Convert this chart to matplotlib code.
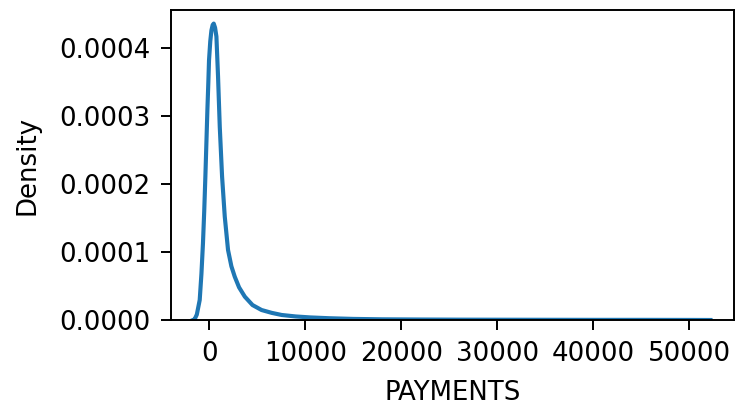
import matplotlib
matplotlib.use("Agg")
import matplotlib.pyplot as plt

# kde curve of PAYMENTS
payments = [-1700, -1530, -1300, -1000, -820, -660, -530, -410, -300, -200, -100, -30, 100,
            220, 350, 460, 600, 740, 910, 1090, 1330, 1610, 1950, 2300, 2650,
            3100, 3700, 4500, 5440, 6500, 7530, 9000, 10500, 12500, 15000,
            18000, 22000, 26000, 30000, 35000, 40000, 45000, 50000, 52200]
density = [0.0, 0.000001, 0.000008, 0.0000294, 0.000068, 0.000113, 0.000160, 0.000211, 0.000262, 0.000309,
           0.000350, 0.000382, 0.000410, 0.000426, 0.000434, 0.000436, 0.000430, 0.000417, 0.000358,
           0.000284, 0.000211, 0.000152, 0.000103, 0.000079, 0.0000637, 0.000048, 0.0000343,
           0.000022, 0.0000147, 0.0000105, 0.0000074, 0.0000052, 0.0000038, 0.0000026,
           0.0000016, 0.000001, 0.0000007, 0.0000005, 0.0000004, 0.0000003, 0.0000002,
           0.0000002, 0.0000001, 0.0]

plt.rcParams["font.size"] = 10.7
plt.rcParams["xtick.major.size"] = 4
plt.rcParams["ytick.major.size"] = 4
plt.rcParams["xtick.major.pad"] = 4.5
plt.rcParams["ytick.major.pad"] = 4.5

fig = plt.figure(figsize=(737 / 175, 406 / 175), dpi=175)
ax = fig.add_axes([171 / 737, 86 / 406, 563 / 737, 310 / 406])

ax.plot(payments, density, color="#1f77b4", linewidth=1.7)
ax.set_xlim(-3990, 54650)
ax.set_ylim(0, 0.000456)
ax.set_xticks([0, 10000, 20000, 30000, 40000, 50000])
ax.set_yticks([0, 0.0001, 0.0002, 0.0003, 0.0004])
ax.set_yticklabels(["0.0000", "0.0001", "0.0002", "0.0003", "0.0004"])
ax.set_xlabel("PAYMENTS", labelpad=5.5)
ax.set_ylabel("Density", labelpad=7.5)

fig.savefig("out.png", dpi=175)
